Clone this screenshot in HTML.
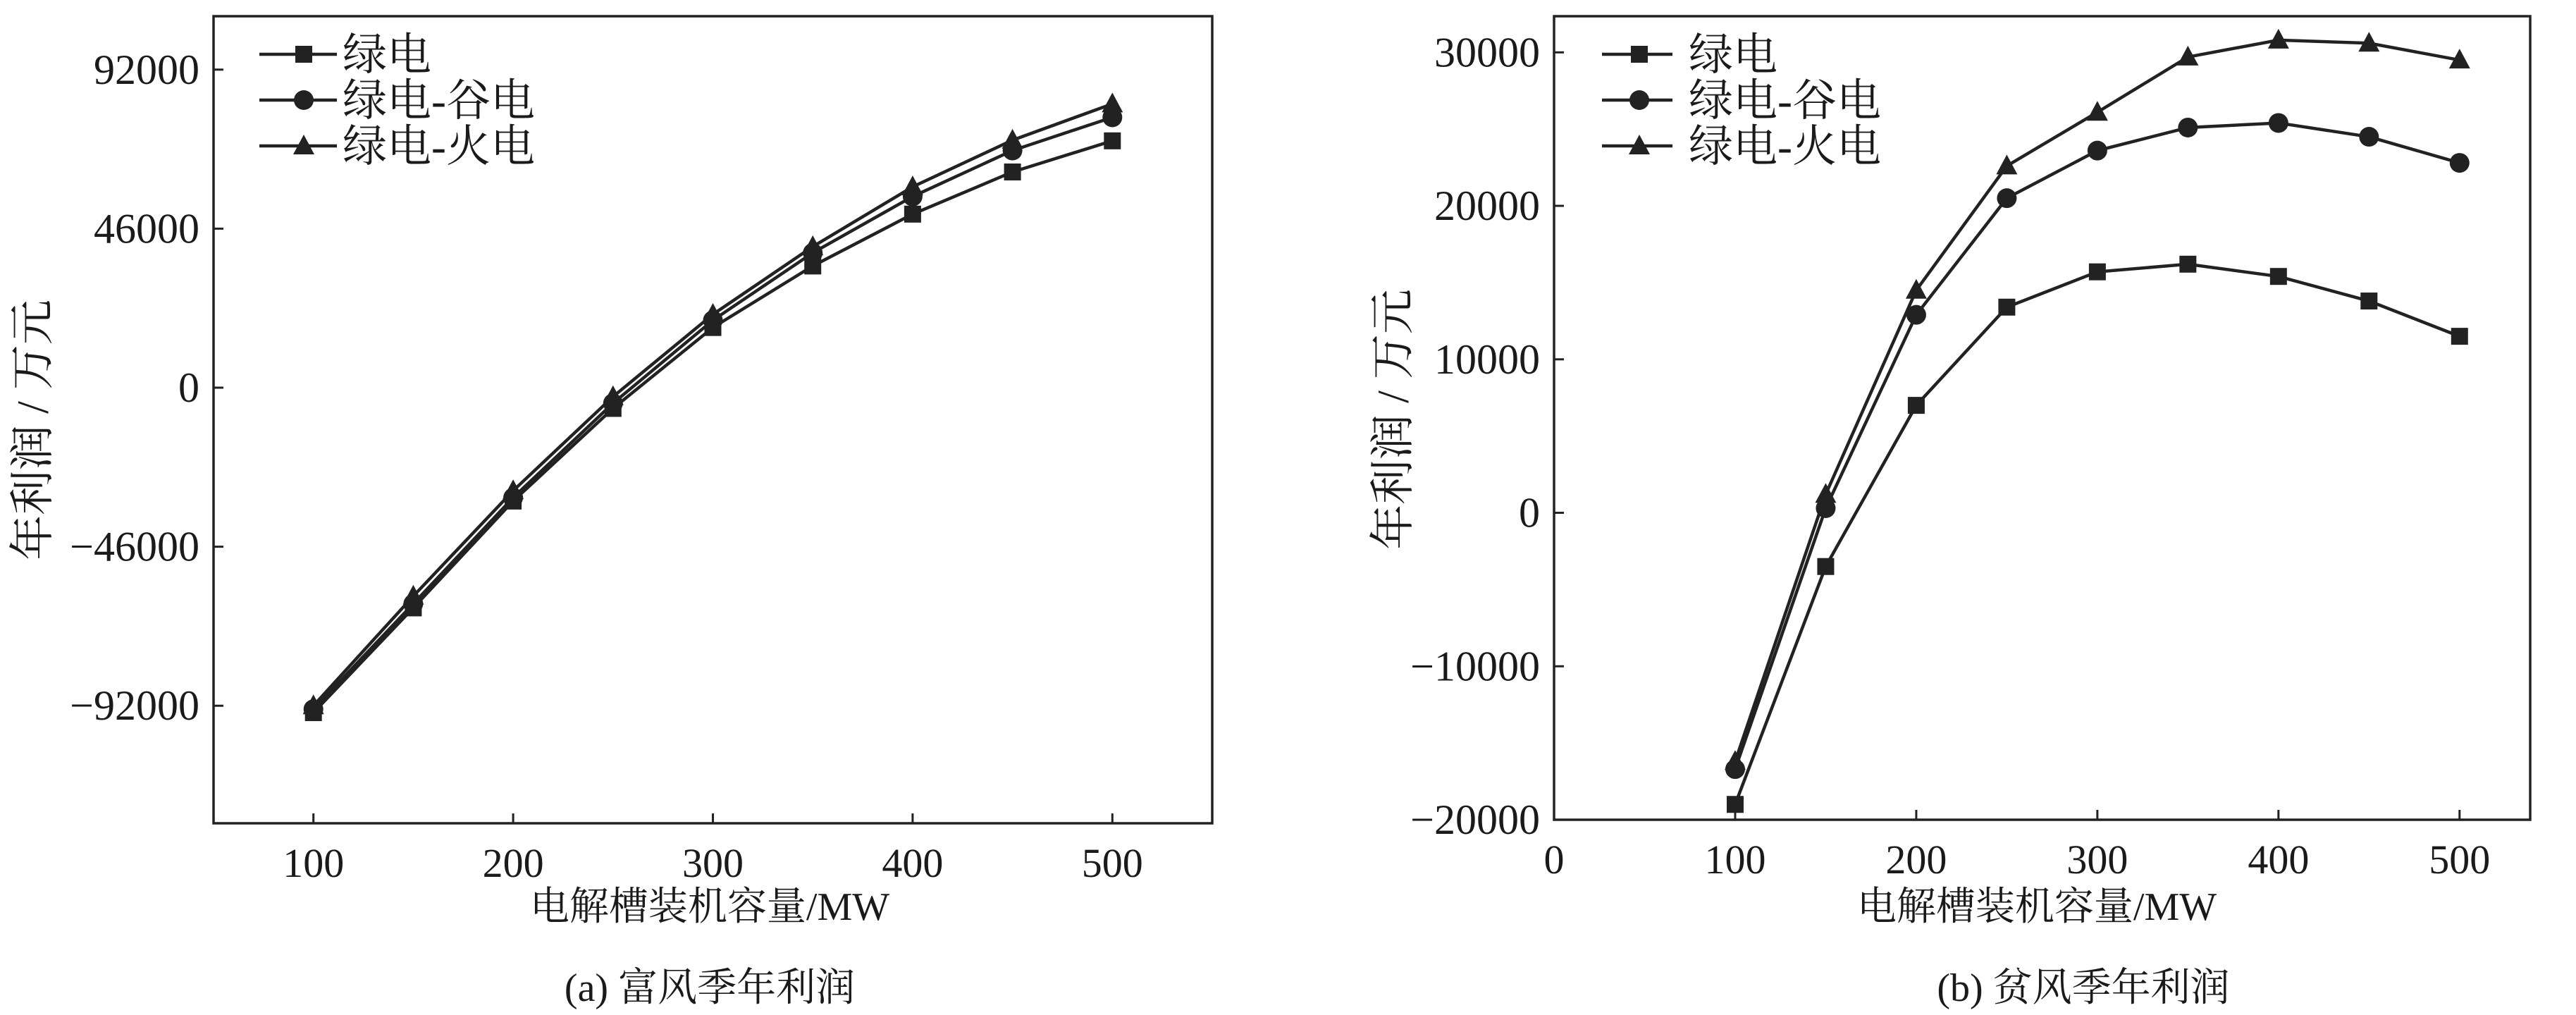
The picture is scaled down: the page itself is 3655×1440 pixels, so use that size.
<!DOCTYPE html>
<html><head><meta charset="utf-8"><style>
html,body{margin:0;padding:0;background:#fff;}
svg{display:block;}
text{font-family:"Liberation Serif","Noto Serif CJK SC","Noto Sans CJK SC",serif;fill:#1a1a1a;}
</style></head><body>
<svg id="chart" width="3655" height="1440" viewBox="0 0 3655 1440" xmlns="http://www.w3.org/2000/svg"></svg>
<script>
const capacities=[100,150,200,250,300,350,400,450,500];
const seriesNames=["绿电","绿电-谷电","绿电-火电"];
const markerTypes=["square","circle","triangle"];
const richGreen=[-94000,-63700,-32800,-6000,17400,35200,50200,62400,71400];
const richValley=[-93000,-62500,-31800,-4500,19500,39000,55300,68600,78200];
const richThermal=[-92000,-60300,-29800,-2600,21200,40800,58100,71600,82100];
const poorGreen=[-19000,-3500,7000,13400,15700,16200,15400,13800,11500];
const poorValley=[-16700,300,12900,20500,23600,25100,25400,24500,22800];
const poorThermal=[-16200,1200,14500,22600,26100,29700,30800,30600,29500];
const richYTicks=[92000,46000,0,-46000,-92000];
const richYLabels=["92000","46000","0","−46000","−92000"];
const richXTicks=[100,200,300,400,500];
const poorYTicks=[30000,20000,10000,0,-10000,-20000];
const poorYLabels=["30000","20000","10000","0","−10000","−20000"];
const poorXTicks=[0,100,200,300,400,500];

const NS="http://www.w3.org/2000/svg";
const svg=document.getElementById('chart');
function el(tag,attrs,parent){const e=document.createElementNS(NS,tag);for(const k in attrs)e.setAttribute(k,attrs[k]);(parent||svg).appendChild(e);return e;}

function drawChart(cfg){
  const g=el('g',{});
  
  
  const sx=v=>cfg.L+(v-cfg.xmin)/(cfg.xmax-cfg.xmin)*(cfg.R-cfg.L);
  const sy=v=>cfg.B-(v-cfg.ymin)/(cfg.ymax-cfg.ymin)*(cfg.B-cfg.T);
  const frame=el('rect',{x:cfg.L,y:cfg.T,width:cfg.R-cfg.L,height:cfg.B-cfg.T,fill:'none',stroke:'#222','stroke-width':3.5},g);
  
  
  cfg.yTicks.forEach((v,i)=>{
    const y=sy(v);
    el('line',{x1:cfg.L,x2:cfg.L+14,y1:y,y2:y,stroke:'#222','stroke-width':3},g);
    const t=el('text',{x:cfg.L-20,y:y+20,'font-size':60,'text-anchor':'end'},g);
    t.textContent=cfg.yLabels[i];
    
    
  });
  cfg.xTicks.forEach(v=>{
    const x=sx(v);
    el('line',{x1:x,x2:x,y1:cfg.B,y2:cfg.B-14,stroke:'#222','stroke-width':3},g);
    const t=el('text',{x:x,y:cfg.B+76,'font-size':58,'text-anchor':'middle'},g);
    t.textContent=String(v);
    
    
  });
  cfg.series.forEach((vals,si)=>{
    const pts=vals.map((v,i)=>sx(capacities[i])+','+sy(v)).join(' ');
    const pl=el('polyline',{points:pts,fill:'none',stroke:'#222','stroke-width':4.5},g);
    
    
    vals.forEach((v,i)=>{
      const m=marker(g,markerTypes[si],sx(capacities[i]),sy(v));
      
      
    });
  });
  seriesNames.forEach((n,i)=>{
    const y=cfg.legY[i];
    el('line',{x1:cfg.legX1,x2:cfg.legX2,y1:y,y2:y,stroke:'#222','stroke-width':4.5},g);
    const m=marker(g,markerTypes[i],cfg.legM,y);
    
    
    const t=el('text',{x:cfg.legT,y:y+22,'font-size':63},g);
    t.textContent=n;
    
    
  });
  const yt=el('text',{x:0,y:0,'font-size':64,'text-anchor':'middle',transform:'translate('+cfg.ytX+','+cfg.ytY+') rotate(-90)'},g);
  yt.textContent='年利润 / 万元';
  
  
  const xt=el('text',{x:cfg.xtX,y:1305,'font-size':56,'text-anchor':'middle'},g);
  xt.textContent='电解槽装机容量/MW';
  
  
  const cap=el('text',{x:cfg.capX,y:1420,'font-size':56,'text-anchor':'middle'},g);
  cap.textContent=cfg.caption;
  
  
}
function marker(g,type,x,y){
  const s=12;
  if(type==='square')return el('rect',{x:x-s,y:y-s,width:2*s,height:2*s,fill:'#222'},g);
  if(type==='circle')return el('circle',{cx:x,cy:y,r:s+2,fill:'#222'},g);
  return el('polygon',{points:(x)+','+(y-s-4)+' '+(x-s-3)+','+(y+s)+' '+(x+s+3)+','+(y+s),fill:'#222'},g);
}
drawChart({name:'rich-wind-chart',L:303,R:1720,T:23,B:1168,xmin:50,xmax:550,ymin:-126000,ymax:107450,
  yTicks:richYTicks,yLabels:richYLabels,xTicks:richXTicks,series:[richGreen,richValley,richThermal],
  legX1:368,legX2:478,legM:431,legT:486,legY:[77,142,207],ytX:68,ytY:610,xtX:1007,capX:1007,caption:'(a) 富风季年利润'});
drawChart({name:'poor-wind-chart',L:2205,R:3590,T:23,B:1163,xmin:0,xmax:539,ymin:-20000,ymax:32356,
  yTicks:poorYTicks,yLabels:poorYLabels,xTicks:poorXTicks,series:[poorGreen,poorValley,poorThermal],
  legX1:2273,legX2:2373,legM:2326,legT:2396,legY:[77,142,207],ytX:1998,ytY:595,xtX:2890,capX:2956,caption:'(b) 贫风季年利润'});
</script>
</body></html>
